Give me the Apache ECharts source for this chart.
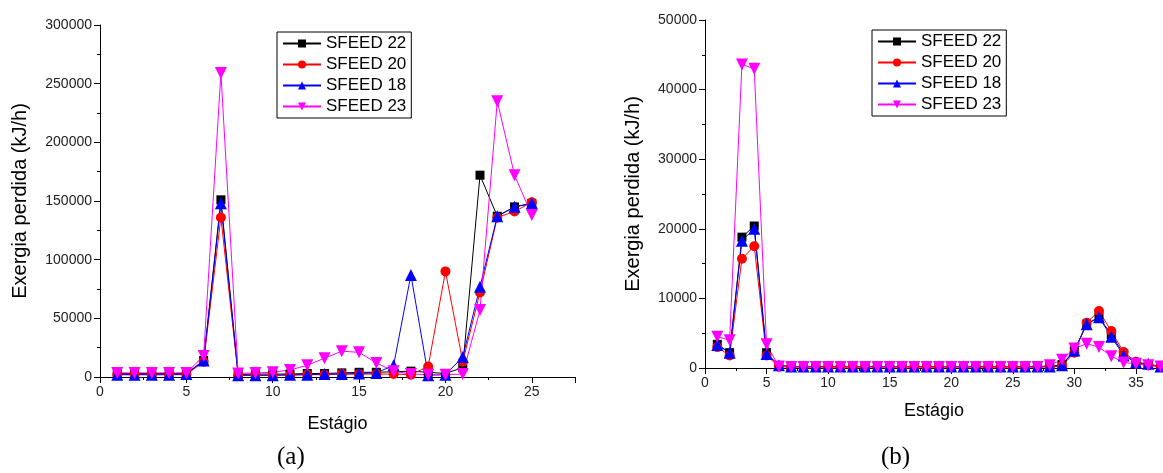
<!DOCTYPE html>
<html>
<head>
<meta charset="utf-8">
<script src="https://cdn.jsdelivr.net/npm/echarts@6/dist/echarts.min.js"></script>
<style>
  html, body { margin: 0; padding: 0; background: #fff; }
  #chart { width: 1163px; height: 473px; }
</style>
</head>
<body>
<div id="chart"></div>
<script>
// (a) - 25 stages
const stagesA = [1,2,3,4,5,6,7,8,9,10,11,12,13,14,15,16,17,18,19,20,21,22,23,24,25];
const a_sfeed22 = [3000,3000,3000,3000,3000,14000,151000,2000,2500,2500,2500,3000,3000,3500,4000,4000,4500,5000,4000,3000,8000,172000,137000,145000,148000];
const a_sfeed20 = [2000,2000,2000,2000,2000,13000,136000,1500,1500,1500,1500,2000,2000,2500,2500,2500,2500,2000,9000,90000,13000,72000,136000,141000,149000];
const a_sfeed18 = [2000,2000,2000,2000,2500,14000,148000,1500,1500,1500,2000,2000,2500,2500,3000,3500,10000,87000,1500,2000,17000,77000,137000,145000,148000];
const a_sfeed23 = [3500,3500,3500,3500,3500,18000,259000,3000,3500,4000,6000,10000,16000,22000,21000,12000,5000,2500,2000,2000,2500,57000,235000,172000,138000];

// (b) - 37 stages
const stagesB = [1,2,3,4,5,6,7,8,9,10,11,12,13,14,15,16,17,18,19,20,21,22,23,24,25,26,27,28,29,30,31,32,33,34,35,36,37];
const b_sfeed22 = [3400,2200,18800,20400,2200,300,200,200,200,200,200,200,200,200,200,200,200,200,200,200,200,200,200,200,200,200,200,200,500,2500,6300,7300,4800,2000,800,500,200];
const b_sfeed20 = [3000,1800,15700,17500,1800,200,150,150,150,150,150,150,150,150,150,150,150,150,150,150,150,150,150,150,150,150,150,150,300,2200,6500,8200,5300,2300,900,400,200];
const b_sfeed18 = [3300,2200,18300,20000,2000,400,200,200,200,200,200,200,200,200,200,200,200,200,200,200,200,200,200,200,200,200,200,200,400,2500,6300,7300,4500,1800,800,600,200];
const b_sfeed23 = [4500,4000,43600,43000,3400,200,150,150,150,150,150,150,150,150,150,150,150,150,150,150,150,150,150,150,150,150,150,400,1200,2800,3500,3000,1700,800,600,400,200];

const names = ['SFEED 22', 'SFEED 20', 'SFEED 18', 'SFEED 23'];
const colors = ['#000000', '#ff0000', '#0000ff', '#ff00ff'];
const symbols = ['rect', 'circle', 'triangle', 'triangle'];
const symSizes = [9, 10, 12, 12];
const rotates = [0, 0, 0, 180];

function pairs(xs, ys) {
  return xs.map((x, i) => [x, ys[i]]);
}

function makeSeries(idx, xs, list) {
  return list.map((ys, i) => ({
    name: names[i],
    type: 'line',
    xAxisIndex: idx,
    yAxisIndex: idx,
    data: pairs(xs, ys),
    symbol: symbols[i],
    symbolSize: symSizes[i],
    symbolRotate: rotates[i],
    showAllSymbol: true,
    lineStyle: { color: colors[i], width: 1 },
    itemStyle: { color: colors[i] },
    emphasis: { disabled: true },
    animation: false
  }));
}

const axisText = { color: '#222', fontFamily: 'Liberation Sans, Arial', fontSize: 14, formatter: v => String(v) };

function xAxis(grid, max, gap) {
  return {
    type: 'value', gridIndex: grid, min: 0, max: max, interval: 5,
    name: 'Estágio', nameLocation: 'middle', nameGap: gap,
    nameTextStyle: { color: '#000', fontFamily: 'Liberation Sans, Arial', fontSize: 18 },
    axisLine: { lineStyle: { color: '#000', width: 1 } },
    axisTick: { inside: false, length: 6, lineStyle: { color: '#000' } },
    minorTick: { show: true, splitNumber: 2, length: 3, lineStyle: { color: '#000' } },
    axisLabel: Object.assign({ margin: 8, showMaxLabel: false }, axisText),
    splitLine: { show: false }
  };
}

function yAxis(grid, max, interval, gap) {
  return {
    type: 'value', gridIndex: grid, min: 0, max: max, interval: interval,
    name: 'Exergia perdida (kJ/h)', nameLocation: 'middle', nameGap: gap,
    nameTextStyle: { color: '#000', fontFamily: 'Liberation Sans, Arial', fontSize: 20 },
    axisLine: { show: true, lineStyle: { color: '#000', width: 1 } },
    axisTick: { show: true, inside: false, length: 6, lineStyle: { color: '#000' } },
    minorTick: { show: true, splitNumber: 2, length: 3, lineStyle: { color: '#000' } },
    axisLabel: Object.assign({ margin: 8 }, axisText),
    splitLine: { show: false }
  };
}

function legend(left, top) {
  return {
    data: names, left: left, top: top, orient: 'vertical',
    itemWidth: 38, itemHeight: 10, itemGap: 4,
    padding: [3, 5, 3, 5],
    borderColor: '#000', borderWidth: 1, borderRadius: 0,
    textStyle: { color: '#000', fontFamily: 'Liberation Sans, Arial', fontSize: 17 },
    selectedMode: false
  };
}

const chart = echarts.init(document.getElementById('chart'), null, { renderer: 'canvas' });
chart.setOption({
  backgroundColor: '#fff',
  animation: false,
  title: [
    { text: '(a)', left: 272, top: 440, textStyle: { fontFamily: 'Liberation Serif, Times New Roman', fontSize: 25, fontWeight: 'normal', color: '#000' } },
    { text: '(b)', left: 876, top: 440, textStyle: { fontFamily: 'Liberation Serif, Times New Roman', fontSize: 25, fontWeight: 'normal', color: '#000' } }
  ],
  legend: [legend(277, 32), legend(872, 30)],
  grid: [
    { left: 100, right: 588, top: 25, bottom: 96 },
    { left: 705, right: 0, top: 20, bottom: 105 }
  ],
  xAxis: [xAxis(0, 27.5, 38), xAxis(1, 37.2, 34)],
  yAxis: [yAxis(0, 300000, 50000, 70), yAxis(1, 50000, 10000, 62)],
  series: [].concat(
    makeSeries(0, stagesA, [a_sfeed22, a_sfeed20, a_sfeed18, a_sfeed23]),
    makeSeries(1, stagesB, [b_sfeed22, b_sfeed20, b_sfeed18, b_sfeed23])
  )
});
</script>
</body>
</html>
